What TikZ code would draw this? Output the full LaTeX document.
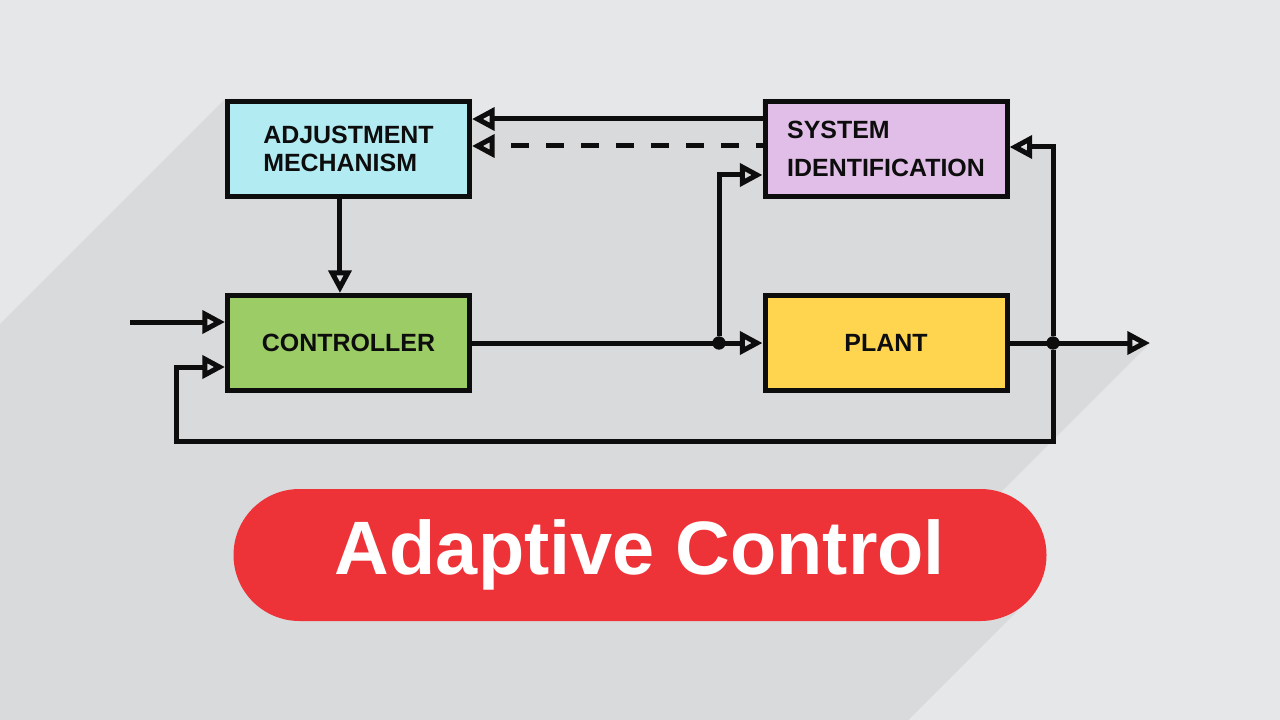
\documentclass[tikz,border=0pt]{standalone}
\usepackage{fontspec}
\setmainfont{Liberation Sans}
\usetikzlibrary{arrows.meta}

\definecolor{bglight}{HTML}{E6E7E9}
\definecolor{bgshadow}{HTML}{D9DADC}
\definecolor{adjcol}{HTML}{B2EBF2}
\definecolor{ctrlcol}{HTML}{9CCC65}
\definecolor{sysidcol}{HTML}{E1BEE7}
\definecolor{plantcol}{HTML}{FFD54F}
\definecolor{pillred}{HTML}{EE3338}
\definecolor{ink}{HTML}{0D0D0D}

\tikzset{block/.style={draw=ink,line width=3.75pt,minimum width=181.5pt,minimum height=71.25pt,inner sep=0pt,text=ink,align=left,font=\fontsize{18.7pt}{21pt}\selectfont\bfseries}}
\tikzset{wire/.style={draw=ink,line width=3.75pt,-{Triangle[open,length=17pt,width=17pt]}}}
\tikzset{dot/.style={circle,fill=ink,inner sep=0pt,minimum size=10pt}}

\begin{document}
\begin{tikzpicture}[x=0.75pt,y=-0.75pt]
		\useasboundingbox (0,0) rectangle (1280,720);
		\fill[bglight] (0,0) rectangle (1280,720);
		% long shadow
		\begin{scope}
			\clip (0,0) rectangle (1280,720);
			\fill[bgshadow] (225,99) -- (472,99) -- (472,119) -- (762,119) -- (762,99) -- (1010,99) -- (1010,147) -- (1055,147) -- (1055,343) -- (1150,343) -- (550,943) -- (-619,943) -- cycle;
			\fill[bgshadow] (980,555) -- (1026.7,601.7) -- (626.7,1001.7) -- (0,1001.7) -- (0,555) -- cycle;
		\end{scope}
		\node[fill=pillred,minimum width=609.75pt,minimum height=99pt,rounded corners=49.5pt,inner sep=0pt,text=white,font=\fontsize{56.8pt}{60pt}\selectfont\bfseries] (title) at (640,555) {Adaptive Control};
		\node[block,fill=adjcol] (adj) at (348.5,149) {ADJUSTMENT\\MECHANISM};
		\node[block,fill=ctrlcol] (ctrl) at (348.5,343) {CONTROLLER};
		\node[block,fill=sysidcol,font=\fontsize{18.7pt}{29pt}\selectfont\bfseries] (sysid) at (886,149) {SYSTEM\\IDENTIFICATION};
		\node[block,fill=plantcol] (plant) at (886,343) {PLANT};
		\node[dot] (jl) at (719,343) {};
		\node[dot] (jr) at (1053,343) {};
		\coordinate (in) at (130,322);
		\coordinate (out) at (1150,343);
		\coordinate (fb) at (176,441);
		\draw[wire] ([yshift=22.5pt]sysid.west) -- ([yshift=22.5pt]adj.east);
		\draw[wire,dash pattern=on 13.5pt off 12.75pt,dash phase=8.25pt] ([yshift=2.25pt]sysid.west) -- ([yshift=2.25pt]adj.east);
		\draw[wire] ([xshift=-6.4pt]adj.south) -- ([xshift=-6.4pt]ctrl.north);
		\draw[wire] (in) -- ([yshift=15.75pt]ctrl.west);
		\draw[wire] (ctrl) -- (plant);
		\draw[wire] (jl) |- ([yshift=-19.5pt]sysid.west);
		\draw[wire] (plant) -- (out);
		\draw[wire] (jr) |- ([yshift=1.5pt]sysid.east);
		\draw[wire] (jr) |- (fb) |- ([yshift=-18pt]ctrl.west);
\end{tikzpicture}
\end{document}
